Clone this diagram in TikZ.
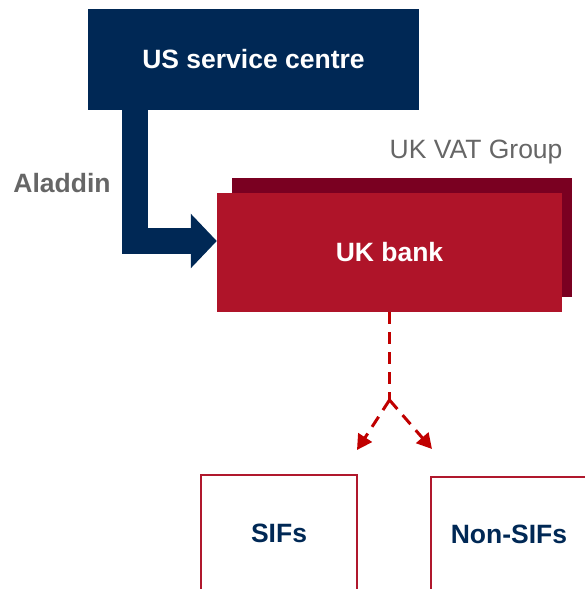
\documentclass[tikz,border=0pt]{standalone}
\usepackage{fontspec}
\setmainfont{Liberation Sans}
\usetikzlibrary{arrows.meta}
\definecolor{navy}{RGB}{0,40,85}
\definecolor{bankred}{RGB}{175,20,41}
\definecolor{darkred}{RGB}{122,0,33}
\definecolor{linered}{RGB}{192,0,0}
\definecolor{boxred}{RGB}{176,24,45}
\definecolor{txtgray}{RGB}{102,102,102}

\begin{document}
\begin{tikzpicture}[x=1pt,y=-1pt,
  big/.style={font=\fontsize{26.5}{30}\selectfont\bfseries},
  solidbox/.style={big, text=white, inner sep=0pt},
  outbox/.style={big, text=navy, draw=boxred, line width=2pt, inner sep=0pt},
  dashline/.style={draw=linered, line width=3pt, dash pattern=on 12pt off 8pt},
  bigarrow/.style={draw=navy, line width=26pt, -{Triangle[length=26pt,width=53pt]}}]
\useasboundingbox (0,0) rectangle (585,589);
\clip (0,0) rectangle (585,589);
\node[solidbox, fill=navy, minimum width=331pt, minimum height=101pt] (us) at (253.5,59.5) {US service centre};
\node[fill=darkred, minimum width=340pt, minimum height=119pt, inner sep=0pt] (ukback) at (402,237.5) {};
\node[solidbox, fill=bankred, minimum width=345pt, minimum height=119pt] (uk) at (389.5,252.5) {UK bank};
\node[anchor=east, text=txtgray, font=\fontsize{26.5}{30}\selectfont] (vat) at (566,152) {UK VAT Group};
\node[big, text=txtgray] (aladdin) at (62,183) {Aladdin};
\draw[bigarrow] ([xshift=47.5pt]us.south west) |- ([yshift=11.5pt]uk.west);
\node[outbox, minimum width=156pt, minimum height=116pt] (sifs) at (279,533) {SIFs};
\node[outbox, minimum width=156pt, minimum height=114pt] (nonsifs) at (509,534) {Non-SIFs};
\coordinate (split) at (389.5,400);
\coordinate (sifsin) at (357,450);
\coordinate (nonin) at (432,449);
\draw[dashline] (uk.south) -- (split);
\foreach \t in {sifsin,nonin}
  \draw[dashline, -{Triangle[length=15pt,width=16pt]}] (split) -- (\t);
\end{tikzpicture}
\end{document}
